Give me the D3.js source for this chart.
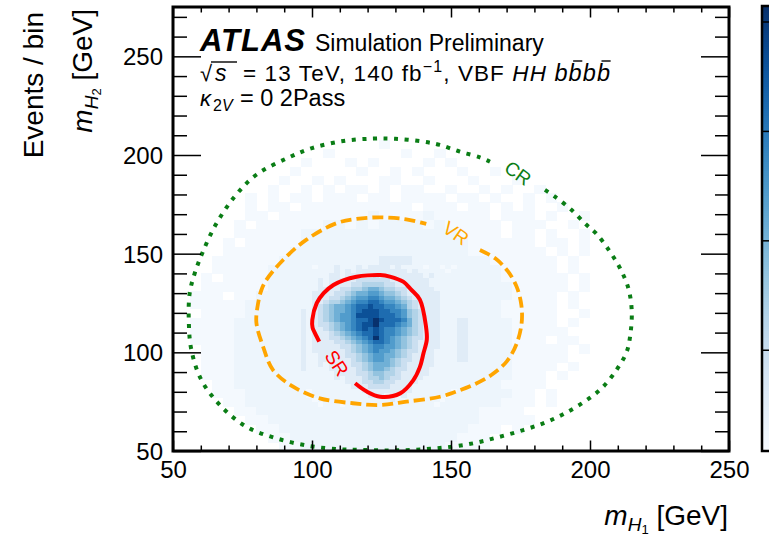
<!DOCTYPE html>
<html><head><meta charset="utf-8">
<script src="https://cdn.jsdelivr.net/npm/d3@7"></script>
<style>
body{margin:0;background:#fff}
svg{display:block}
text{font-family:"Liberation Sans",Arial,Helvetica,sans-serif;fill:#000}
</style>
</head><body>
<svg id="c" width="769" height="541"></svg>
<script>
// ---------------- data ----------------
const xTicks = [50, 100, 150, 200, 250];
const yTicks = [50, 100, 150, 200, 250];
const zTicks = [1e-3, 1e-2, 1e-1, 1];
const zRange = [1.2e-4, 1.4];

// event-per-bin levels (code -> events / bin)
const levelCodes  = "0123456789AB";
const levelValues = [1.35e-4, 1.9e-4, 3.6e-4, 9.4e-4, 2.2e-3, 5.1e-3, 1.18e-2, 2.74e-2, 6.4e-2, 0.163, 0.455, 1.35];

// outer (faint) region, 4 GeV x 4.5 GeV bins, m1 from 52, m2 from 50; rows listed top -> bottom
const coarseBins = {x0: 52, dx: 4, y0: 50, dy: 4.5};
const coarseRows = [
"..................0.....................",
".............0......0..0................",
"...........0...0.0....0.0...............",
"..........0.....0..0.0...0..0...........",
".........0..0.0...00..0...0...0.........",
"........0..0.0.00.0.00..0..0.0..0.......",
"......0.0.00.000.00.0000.00.0..0.0......",
"......0.00.0000000000.000.00.0.0..0.....",
"......00.0000000010000100000.000.0..0...",
".....0.0000001101011110100000.000..0....",
".....000000111111111111110000.00.0..0...",
"....0.00000111111111111111000000.00.0...",
"....00000011111111111111110000000.0.0...",
"...0000001111111112221111111000000.0....",
"...0000011111112222222111111100000.0....",
"..0.0000111111222222222111111000000.0...",
"..000000111111222222222221111100000.0...",
".000.00111111222222222222111110000.0....",
".000001111112222222222221111100000.0....",
"..00001111122222222222222111100000..0...",
".000011111122222222222222211110000.0....",
".0000111111222222222222222111100000.....",
".00001111112222222222222221111000.00....",
"..000111111222222222222222111100000.0...",
"..000111111222222222222222111100000.....",
"..00011111122222222222222111110000.0....",
"..0001111111222222222222211111000.0.....",
"...001111111222222222222111110000.......",
"...00011111112222222222211111100.0......",
"....0011111111222222221111111000.0......",
".....00111111111111111111110000........",
"......00111111111111111111100000.......",
".......0011111111111111111000.0.........",
"........00111111111111111000............",
".........0011111111111110000..........."
];

// core region, 2 GeV x 2.25 GeV bins, m1 from 98, m2 from 72.5; rows listed top -> bottom
const fineBins = {x0: 98, dx: 2, y0: 72.5, dy: 2.25};
const fineRows = [
"101112111212222121111011010",
"111112121222222222121111101",
"111122122222322222222121111",
"112122222333333222222211111",
"112122223344443322222211111",
"112222334456654433222221111",
"122223345667765543222222111",
"122233456778876654322222111",
"122344567889987765432222111",
"12345667899A998876432222111",
"1234566789AAA99887543222111",
"123456778AAAA99987543222111",
"12345677899ABA9998643222111",
"1233456789AAB99987643222111",
"1223456789A9A98876543222111",
"122234567899A98876543222111",
"122233456789B98765433222111",
"122223345678998765432222111",
"122222334567887765432222111",
"122222234567877654332221111",
"112222233456776654322221111",
"112222223456776543322221111",
"112122223345666543222221111",
"111122222345665433222211111",
"111112222334554432222211111",
"111112122234454332222111111",
"111111122233443322221111111",
"111111112223333222211111111",
"011111111122222222211111110",
"011111111112221212111111101",
"101111111111111211111111011",
"110111011111111111111110111"
];

// region boundaries (m_H1, m_H2 in GeV), open where the labels sit
const srM1 = [115.5,119.7,124.5,131.7,136.4,138.8,140.1,141.3,141.0,138.8,135.5,132.8,128,124.5,120,116.0,111.5,107.7,104.2,101.7,100.1,100.2,101.1,102.6];
const srM2 = [84.3,80.1,77.5,79.2,85.8,92.5,99.5,106.5,113.1,126.7,132.0,135.8,138.4,139.2,139.0,138.3,136.6,134.1,130.0,124.9,116.4,112.5,109.6,105.4];

const vrM1 = [160.4,166.0,170.5,173.6,175.3,175.4,173.5,170.0,164.5,158.0,152.0,146.0,134.0,124.4,114.7,102.8,93.2,86.0,82.4,80.0,80.5,81.8,83.6,89.6,97.9,108.7,116.0,124.4,133.9,141.1];
const vrM2 = [151.9,147.5,141.0,133.3,124.0,114.7,104.0,95.3,88.5,83.5,80.2,77.5,75.0,73.3,74.2,76.7,82.6,91.0,102.9,115.0,124.0,131.6,136.7,146.8,157.0,165.4,167.6,168.4,167.4,165.1];

const crM1 = [183.8,187.4,193.4,198.8,202.0,206.6,210.8,213.8,215.0,214.6,213.2,209.5,204.2,198.0,191.0,184.0,176.0,167.0,158.0,148.0,137.0,127.0,117.0,110.0,99.2,87.2,76.4,67.4,60.2,56.6,55.7,56.0,57.8,60.8,65.5,72.2,80.0,91.4,100.0,111.3,122.0,130.0,140.0,146.0,153.2,160.4,164.0];
const crM2 = [182.3,178.9,172.1,164.5,160.5,152.2,142.6,132.5,121.5,110.0,100.3,91.0,81.8,75.0,69.1,64.5,60.6,57.0,53.9,51.8,50.6,50.3,50.6,50.9,52.5,56.4,62.3,72.5,86.0,101.3,115.0,130.0,140.0,151.2,165.0,179.0,190.0,198.6,203.5,207.1,208.3,208.2,206.8,205.1,201.7,198.8,196.6];

// ---------------- drawing ----------------
const svg = d3.select("#c");
svg.append("rect").attr("width", 769).attr("height", 541).attr("fill", "#fff");

const L = 173, R = 729, T = 7, B = 451;
const x = d3.scaleLinear().domain([50, 250]).range([L, R]);
const y = d3.scaleLinear().domain([50, 275]).range([B, T]);
const color = d3.scaleSequentialLog(d3.interpolateBlues).domain(zRange);

svg.append("defs").append("clipPath").attr("id", "plot")
  .append("rect").attr("x", L).attr("y", T).attr("width", R - L).attr("height", B - T);

function toCells(rows, b) {
  const out = [], n = rows.length;
  rows.forEach((r, ri) => {
    const j = n - 1 - ri;
    for (let i = 0; i < r.length; i++) {
      const k = levelCodes.indexOf(r[i]);
      if (k < 0) continue;
      out.push({x0: b.x0 + i * b.dx, x1: b.x0 + (i + 1) * b.dx,
                y0: b.y0 + j * b.dy, y1: b.y0 + (j + 1) * b.dy, v: levelValues[k]});
    }
  });
  return out;
}
const cells = toCells(coarseRows, coarseBins).concat(toCells(fineRows, fineBins));

const gHeat = svg.append("g").attr("clip-path", "url(#plot)").attr("shape-rendering", "crispEdges");
gHeat.selectAll("rect").data(cells).join("rect")
  .attr("x", d => x(d.x0)).attr("y", d => y(d.y1))
  .attr("width", d => x(d.x1) - x(d.x0) + 0.4)
  .attr("height", d => y(d.y0) - y(d.y1) + 0.4)
  .attr("fill", d => color(d.v));

// contours
const line = d3.line().x(d => x(d[0])).y(d => y(d[1])).curve(d3.curveCatmullRom.alpha(0.5));
const gC = svg.append("g").attr("clip-path", "url(#plot)").attr("fill", "none");
gC.append("path").attr("d", line(d3.zip(crM1, crM2)))
  .attr("stroke", "#0a7d15").attr("stroke-width", 4).attr("stroke-dasharray", "4 6.6");
gC.append("path").attr("d", line(d3.zip(vrM1, vrM2)))
  .attr("stroke", "#ffa500").attr("stroke-width", 3.8).attr("stroke-dasharray", "11 5");
gC.append("path").attr("d", line(d3.zip(srM1, srM2)))
  .attr("stroke", "#ff0000").attr("stroke-width", 4);

[["SR", 109.0, 94.6, 57, "#ff0000"],
 ["VR", 151.8, 160.5, 35, "#ffa500"],
 ["CR", 174.1, 190.9, 36, "#0a7d15"]].forEach(([t, a, b, r, c]) => {
  svg.append("text").attr("transform", `translate(${x(a)},${y(b)}) rotate(${r})`)
    .attr("text-anchor", "middle").attr("dy", "0.36em")
    .style("font-size", "19px").style("fill", c).text(t);
});

// axes (ticks inside)
function minor(lo, hi) { return d3.range(lo, hi + 0.1, 10).filter(v => v % 50 !== 0); }
const fmt = d3.format("d");
const axB = svg.append("g").attr("transform", `translate(0,${B})`)
  .call(d3.axisBottom(x).tickValues(xTicks).tickSize(-10.5).tickPadding(10).tickFormat(fmt));
const axBm = svg.append("g").attr("transform", `translate(0,${B})`)
  .call(d3.axisBottom(x).tickValues(minor(50, 250)).tickSize(-5.5).tickFormat(""));
const axT = svg.append("g").attr("transform", `translate(0,${T})`)
  .call(d3.axisTop(x).tickValues(xTicks).tickSize(-10.5).tickFormat(""));
const axTm = svg.append("g").attr("transform", `translate(0,${T})`)
  .call(d3.axisTop(x).tickValues(minor(50, 250)).tickSize(-5.5).tickFormat(""));
const axL = svg.append("g").attr("transform", `translate(${L},0)`)
  .call(d3.axisLeft(y).tickValues(yTicks).tickSize(-28).tickPadding(10).tickFormat(fmt));
const axLm = svg.append("g").attr("transform", `translate(${L},0)`)
  .call(d3.axisLeft(y).tickValues(minor(50, 275)).tickSize(-14).tickFormat(""));
const axR = svg.append("g").attr("transform", `translate(${R},0)`)
  .call(d3.axisRight(y).tickValues(yTicks).tickSize(-28).tickFormat(""));
const axRm = svg.append("g").attr("transform", `translate(${R},0)`)
  .call(d3.axisRight(y).tickValues(minor(50, 275)).tickSize(-14).tickFormat(""));
[axB, axBm, axT, axTm, axL, axLm, axR, axRm].forEach(g => {
  g.select(".domain").remove();
  g.selectAll("line").attr("stroke", "#000").attr("stroke-width", 1.5);
  g.selectAll("text").style("font-size", "24px").style("font-family", '"Liberation Sans",Arial,sans-serif').attr("fill", "#000");
});
axL.selectAll("text").attr("dy", "0.35em");
axB.selectAll("text").attr("dy", "0.71em");

svg.append("rect").attr("x", L).attr("y", T).attr("width", R - L).attr("height", B - T)
  .attr("fill", "none").attr("stroke", "#000").attr("stroke-width", 3);

// colour bar (partly outside the window, as in the original)
const cb = d3.scaleLog().domain(zRange).range([B, T - 1]);
const nS = 200;
const stepVal = i => zRange[0] * Math.pow(zRange[1] / zRange[0], i / nS);
svg.append("g").attr("shape-rendering", "crispEdges").selectAll("rect").data(d3.range(nS)).join("rect")
  .attr("x", 762).attr("width", 20)
  .attr("y", i => cb(stepVal(i + 1)))
  .attr("height", i => cb(stepVal(i)) - cb(stepVal(i + 1)) + 0.5)
  .attr("fill", i => color(stepVal(i + 0.5)));
svg.append("g").selectAll("line").data(zTicks).join("line")
  .attr("x1", 762).attr("x2", 775).attr("y1", d => cb(d)).attr("y2", d => cb(d))
  .attr("stroke", "#000").attr("stroke-width", 1.5);
svg.append("rect").attr("x", 762).attr("y", T - 1).attr("width", 20).attr("height", B - T + 1)
  .attr("fill", "none").attr("stroke", "#000").attr("stroke-width", 2.5);

// axis titles
const xt = svg.append("text").attr("x", 728).attr("y", 525).attr("text-anchor", "end").style("font-size", "28px");
xt.append("tspan").style("font-style", "italic").text("m");
xt.append("tspan").style("font-style", "italic").style("font-size", "19px").attr("dy", 6).text("H");
xt.append("tspan").style("font-size", "13px").attr("dy", 3).text("1");
xt.append("tspan").attr("dy", -9).text(" [GeV]");

const yt = svg.append("text").attr("transform", "translate(92,9) rotate(-90)").attr("text-anchor", "end").style("font-size", "28px");
yt.append("tspan").style("font-style", "italic").text("m");
yt.append("tspan").style("font-style", "italic").style("font-size", "19px").attr("dy", 6).text("H");
yt.append("tspan").style("font-size", "13px").attr("dy", 3).text("2");
yt.append("tspan").attr("dy", -9).text(" [GeV]");

svg.append("text").attr("transform", "translate(43,12) rotate(-90)").attr("text-anchor", "end")
  .style("font-size", "28px").text("Events / bin");

// ATLAS label block
svg.append("text").attr("x", 200).attr("y", 51).style("font-size", "31px").style("letter-spacing", "1px")
  .style("font-weight", "bold").style("font-style", "italic").text("ATLAS");
svg.append("text").attr("x", 315).attr("y", 51).style("font-size", "23px").text("Simulation Preliminary");

const l2y = 81;
svg.append("text").attr("x", 200).attr("y", l2y).style("font-size", "22px").text("\u221A");
svg.append("text").attr("x", 215).attr("y", l2y).style("font-size", "23px").style("font-style", "italic").text("s");
svg.append("line").attr("x1", 211).attr("x2", 237).attr("y1", 62).attr("y2", 62).attr("stroke", "#000").attr("stroke-width", 1.4);
const t2 = svg.append("text").attr("x", 243).attr("y", l2y).style("font-size", "22.5px")
  .attr("textLength", 367).attr("lengthAdjust", "spacing");
t2.append("tspan").text("= 13 TeV, 140 fb");
t2.append("tspan").style("font-size", "16px").attr("dy", -9).text("\u22121");
t2.append("tspan").attr("dy", 9).text(", VBF ");
t2.append("tspan").style("font-style", "italic").text("HH");
t2.append("tspan").text(" ");
t2.append("tspan").style("font-style", "italic").style("font-size", "23.5px").text("bbbb");
const bIdx = "= 13 TeV, 140 fb".length + 2 + ", VBF ".length + 3;
[bIdx + 1, bIdx + 3].forEach(i => {
  const e = t2.node().getExtentOfChar(i);
  svg.append("line").attr("x1", e.x + e.width * 0.35).attr("x2", e.x + e.width * 1.05)
    .attr("y1", l2y - 20).attr("y2", l2y - 20).attr("stroke", "#000").attr("stroke-width", 1.4);
});

const l3y = 106;
svg.append("text").attr("x", 200).attr("y", l3y).style("font-size", "22px").style("font-style", "italic").text("\u03BA");
svg.append("text").attr("x", 213).attr("y", l3y + 5).style("font-size", "16px").text("2");
svg.append("text").attr("x", 222).attr("y", l3y + 5).style("font-size", "16px").style("font-style", "italic").text("V");
svg.append("text").attr("x", 240).attr("y", l3y).style("font-size", "23.5px").text("= 0 2Pass");
</script>
</body></html>
